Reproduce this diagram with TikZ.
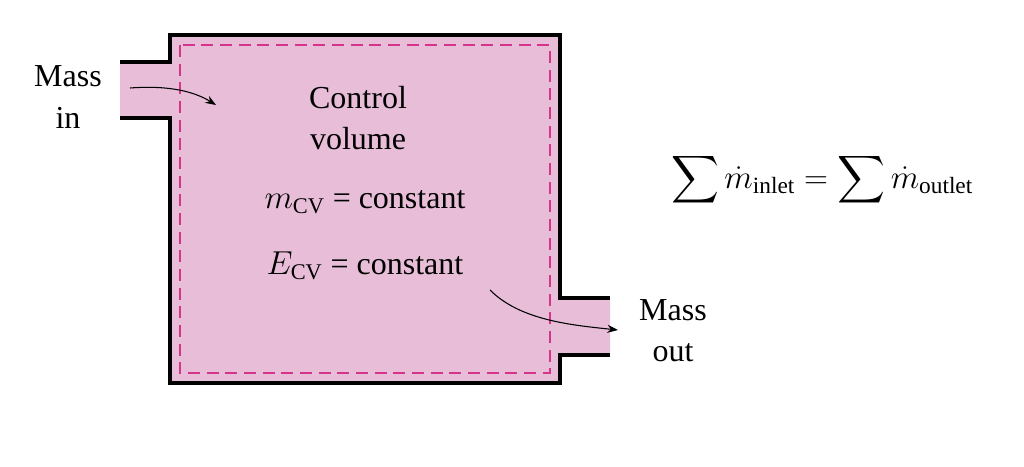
\documentclass[tikz,border=0pt]{standalone}
\usepackage{amsmath}
\usepackage{fontspec}
\setmainfont{Liberation Serif}
\usetikzlibrary{arrows.meta}
\definecolor{cvpink}{HTML}{E8BDD8}
\definecolor{cvdash}{HTML}{D6338A}
\tikzset{lbl/.style={font=\fontsize{24}{31}\selectfont, align=center, inner sep=0pt},
  flow/.style={-{Stealth[length=8pt,width=6pt]}, thick}}
\begin{document}
\begin{tikzpicture}[x=0.75pt,y=-0.75pt]
\useasboundingbox (0,0) rectangle (1024,467);
\def\vessel{(120,62) -- (170,62) -- (170,35) -- (560,35) -- (560,298) -- (610,298)
  -- (610,355) -- (560,355) -- (560,383) -- (170,383) -- (170,118) -- (120,118) -- cycle}
\fill[cvpink] \vessel;
\draw[line width=3pt] (120,62) -- (170,62) -- (170,35) -- (560,35) -- (560,298) -- (610,298);
\draw[line width=3pt] (610,355) -- (560,355) -- (560,383) -- (170,383) -- (170,118) -- (120,118);
\draw[cvdash, line width=1.2pt, dash pattern=on 9pt off 5pt] (180,45) rectangle (550,373);
\node[lbl] (massin) at (68,97) {Mass\\in};
\node[lbl] (massout) at (673,331) {Mass\\out};
\node[lbl] (cv) at (358,118) {Control\\volume};
\node[lbl] (mcv) at (365,202) {$m_{\text{CV}}$ = constant};
\node[lbl] (ecv) at (365,266) {$E_{\text{CV}}$ = constant};
\node[font=\fontsize{25}{29}\selectfont] (bal) at (822,180)
  {$\displaystyle\sum \dot{m}_{\text{inlet}} = \sum \dot{m}_{\text{outlet}}$};
\coordinate (inA) at (130,88);
\coordinate (inB) at (216,105);
\coordinate (outA) at (490,290);
\coordinate (outB) at (618,330);
\draw[flow] (inA) .. controls (170,85) and (195,92) .. (inB);
\draw[flow] (outA) .. controls (520,320) and (570,325) .. (outB);
\end{tikzpicture}
\end{document}
